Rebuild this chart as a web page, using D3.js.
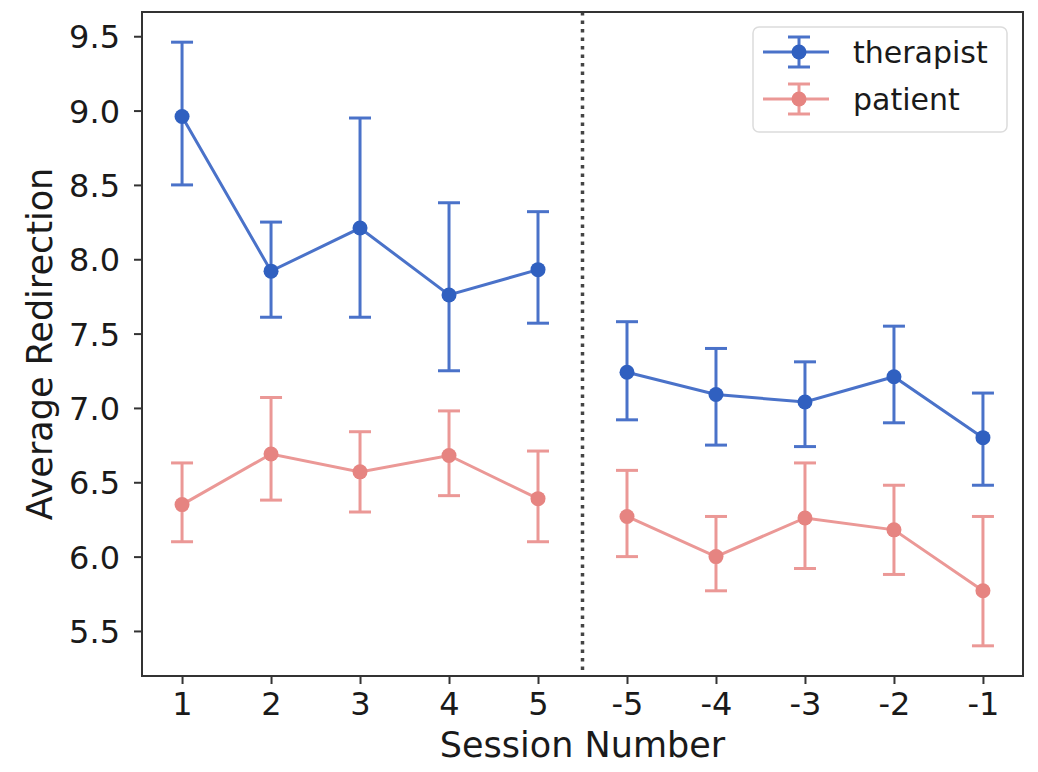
<!DOCTYPE html>
<html>
<head>
<meta charset="utf-8">
<script src="https://cdn.jsdelivr.net/npm/d3@7"></script>
<style>
  body { margin: 0; background: #fff; }
  text { font-family: "DejaVu Sans", sans-serif; fill: #1a1a1a; }
</style>
</head>
<body>
<div id="chart"></div>
<script>
// data
const sessions = ["1", "2", "3", "4", "5", "-5", "-4", "-3", "-2", "-1"]
// first five and last five sessions are drawn as separate lines
const sessionBlock = [0, 0, 0, 0, 0, 1, 1, 1, 1, 1]

const therapistMean  = [8.96, 7.92, 8.21, 7.76, 7.93, 7.24, 7.09, 7.04, 7.21, 6.80]
const therapistLower = [8.50, 7.61, 7.61, 7.25, 7.57, 6.92, 6.75, 6.74, 6.90, 6.48]
const therapistUpper = [9.46, 8.25, 8.95, 8.38, 8.32, 7.58, 7.40, 7.31, 7.55, 7.10]

const patientMean  = [6.35, 6.69, 6.57, 6.68, 6.39, 6.27, 6.00, 6.26, 6.18, 5.77]
const patientLower = [6.10, 6.38, 6.30, 6.41, 6.10, 6.00, 5.77, 5.92, 5.88, 5.40]
const patientUpper = [6.63, 7.07, 6.84, 6.98, 6.71, 6.58, 6.27, 6.63, 6.48, 6.27]

const yTicks = [5.5, 6.0, 6.5, 7.0, 7.5, 8.0, 8.5, 9.0, 9.5]

const series = [
    { name: "therapist", mean: therapistMean, lower: therapistLower, upper: therapistUpper,
      line: "#4a72c9", marker: "#3060c0" },
    { name: "patient", mean: patientMean, lower: patientLower, upper: patientUpper,
      line: "#eb9896", marker: "#e68481" }
]

//container with dimensions
let width = 1038,
    height = 772,
    margin = { top: 12, right: 15, bottom: 96, left: 142 }

let svg = d3.select("#chart")
    .append("svg")
    .attr("width", width)
    .attr("height", height)

//scales (matplotlib style 5% margins)
let xScale = d3.scaleLinear()
    .domain([-0.45, sessions.length - 1 + 0.45])
    .range([margin.left, width - margin.right])

let allLow = d3.min(series, s => d3.min(s.lower)),
    allHigh = d3.max(series, s => d3.max(s.upper)),
    pad = (allHigh - allLow) * 0.05

let yScale = d3.scaleLinear()
    .domain([allLow - pad, allHigh + pad])
    .range([height - margin.bottom, margin.top])

// axes
let xAxis = d3.axisBottom(xScale)
    .tickValues(d3.range(sessions.length))
    .tickFormat(i => sessions[i])
    .tickSizeOuter(0)
    .tickSize(8)
    .tickPadding(8)

let yAxis = d3.axisLeft(yScale)
    .tickValues(yTicks)
    .tickFormat(d3.format(".1f"))
    .tickSizeOuter(0)
    .tickSize(8)
    .tickPadding(14)

let gx = svg.append("g")
    .attr("transform", `translate(0,${height - margin.bottom})`)
    .call(xAxis)
gx.select(".domain").remove()
gx.selectAll("line").attr("stroke", "#333").attr("stroke-width", 2)
gx.selectAll("text").style("font-size", "32px").attr("fill", "#1a1a1a")

let gy = svg.append("g")
    .attr("transform", `translate(${margin.left},0)`)
    .call(yAxis)
gy.select(".domain").remove()
gy.selectAll("line").attr("stroke", "#333").attr("stroke-width", 2)
gy.selectAll("text").style("font-size", "32px").attr("fill", "#1a1a1a").attr("dy", "0.36em")

//dotted separator between first and last sessions
svg.append("line")
    .attr("x1", xScale(4.5))
    .attr("x2", xScale(4.5))
    .attr("y1", margin.top)
    .attr("y2", height - margin.bottom)
    .style("stroke", "#444")
    .style("stroke-width", 3.5)
    .style("stroke-dasharray", "3.5,5")

// series: lines, error bars, markers
let capHalf = 11

series.forEach(s => {
    let g = svg.append("g")
    let idx = d3.range(s.mean.length)

    let line = d3.line()
        .x(i => xScale(i))
        .y(i => yScale(s.mean[i]))

    // one path per block of sessions
    d3.groups(idx, i => sessionBlock[i]).forEach(([block, ids]) => {
        g.append("path")
            .datum(ids)
            .attr("d", line)
            .attr("fill", "none")
            .attr("stroke", s.line)
            .attr("stroke-width", 3)
    })

    g.selectAll(".err")
        .data(idx)
        .enter().append("line")
        .attr("x1", i => xScale(i))
        .attr("x2", i => xScale(i))
        .attr("y1", i => yScale(s.lower[i]))
        .attr("y2", i => yScale(s.upper[i]))
        .attr("stroke", s.line)
        .attr("stroke-width", 3)

    g.selectAll(".capTop")
        .data(idx)
        .enter().append("line")
        .attr("x1", i => xScale(i) - capHalf)
        .attr("x2", i => xScale(i) + capHalf)
        .attr("y1", i => yScale(s.upper[i]))
        .attr("y2", i => yScale(s.upper[i]))
        .attr("stroke", s.line)
        .attr("stroke-width", 3)

    g.selectAll(".capBottom")
        .data(idx)
        .enter().append("line")
        .attr("x1", i => xScale(i) - capHalf)
        .attr("x2", i => xScale(i) + capHalf)
        .attr("y1", i => yScale(s.lower[i]))
        .attr("y2", i => yScale(s.lower[i]))
        .attr("stroke", s.line)
        .attr("stroke-width", 3)

    g.selectAll("circle")
        .data(s.mean)
        .enter().append("circle")
        .attr("cx", (d, i) => xScale(i))
        .attr("cy", d => yScale(d))
        .attr("r", 7.5)
        .attr("fill", s.marker)
})

//frame
svg.append("rect")
    .attr("x", margin.left)
    .attr("y", margin.top)
    .attr("width", width - margin.left - margin.right)
    .attr("height", height - margin.top - margin.bottom)
    .attr("fill", "none")
    .attr("stroke", "#333")
    .attr("stroke-width", 2)

//legend
let legend = svg.append("g")
    .attr("transform", "translate(753,27)")

legend.append("rect")
    .attr("width", 254)
    .attr("height", 105)
    .attr("rx", 6)
    .attr("fill", "#fff")
    .attr("stroke", "#dcdcdc")
    .attr("stroke-width", 1.5)

series.forEach((s, k) => {
    let row = legend.append("g")
        .attr("transform", `translate(0,${25 + k * 47})`)
    row.append("line")
        .attr("x1", 10).attr("x2", 76)
        .attr("stroke", s.line).attr("stroke-width", 3)
    row.append("line")
        .attr("x1", 46).attr("x2", 46)
        .attr("y1", -15).attr("y2", 15)
        .attr("stroke", s.line).attr("stroke-width", 3)
    row.append("line")
        .attr("x1", 35).attr("x2", 57)
        .attr("y1", -15).attr("y2", -15)
        .attr("stroke", s.line).attr("stroke-width", 3)
    row.append("line")
        .attr("x1", 35).attr("x2", 57)
        .attr("y1", 15).attr("y2", 15)
        .attr("stroke", s.line).attr("stroke-width", 3)
    row.append("circle")
        .attr("cx", 46).attr("r", 7.5)
        .attr("fill", s.marker)
    row.append("text")
        .attr("x", 100)
        .attr("y", 11)
        .style("font-size", "30px")
        .text(s.name)
})

//axis titles
svg.append("text")
    .attr("x", (margin.left + width - margin.right) / 2)
    .attr("y", 757)
    .attr("text-anchor", "middle")
    .style("font-size", "35px")
    .text("Session Number")

svg.append("text")
    .attr("transform", `translate(52,${(margin.top + height - margin.bottom) / 2}) rotate(-90)`)
    .attr("text-anchor", "middle")
    .style("font-size", "35px")
    .text("Average Redirection")
</script>
</body>
</html>
